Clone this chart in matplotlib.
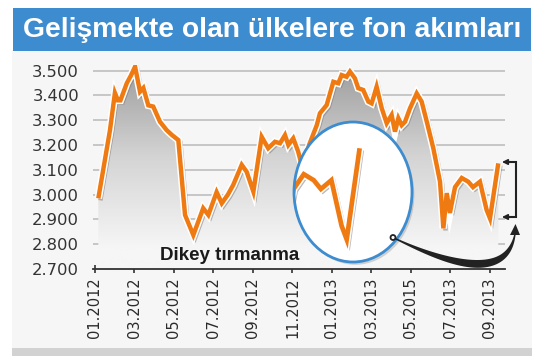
import numpy as np
import matplotlib
matplotlib.use("Agg")
import matplotlib.pyplot as plt
import matplotlib.patheffects as pe
from matplotlib.patches import Ellipse, Rectangle, Polygon
from matplotlib.colors import LinearSegmentedColormap

# data (x in months since 01.2012)
months = [0.17, 0.46, 0.76, 1.01, 1.16, 1.29, 1.61, 1.82, 2.03, 2.28, 2.45, 2.70,
          2.95, 3.29, 3.63, 3.90, 4.22, 4.56, 4.98, 5.48, 5.74, 6.16, 6.42, 6.73,
          7.00, 7.43, 7.68, 8.02, 8.44, 8.77, 9.11, 9.37, 9.62, 9.79, 10.04, 10.29,
          10.53, 10.84, 11.23, 11.39, 11.73, 12.07, 12.32, 12.49, 12.74, 12.91, 13.16,
          13.33, 13.58, 13.84, 14.01, 14.26, 14.52, 14.77, 15.02, 15.19, 15.36, 15.53,
          15.70, 15.95, 16.29, 16.54, 16.80, 17.13, 17.47, 17.64, 17.81, 17.97, 18.23,
          18.57, 18.90, 19.14, 19.49, 19.83, 20.00, 20.42]
values = [2.985, 3.12, 3.26, 3.41, 3.38, 3.38, 3.449, 3.48, 3.516, 3.415, 3.43, 3.36,
          3.355, 3.294, 3.26, 3.24, 3.22, 2.918, 2.837, 2.945, 2.918, 3.01, 2.965, 3.0,
          3.039, 3.12, 3.092, 3.012, 3.233, 3.187, 3.213, 3.207, 3.24, 3.2, 3.227, 3.173,
          3.10, 3.2, 3.28, 3.328, 3.361, 3.455, 3.449, 3.482, 3.475, 3.496, 3.469,
          3.429, 3.422, 3.375, 3.368, 3.435, 3.348, 3.288, 3.321, 3.254, 3.308, 3.28,
          3.294, 3.348, 3.408, 3.375, 3.294, 3.187, 3.052, 2.864, 3.006, 2.926, 3.03,
          3.067, 3.052, 3.03, 3.052, 2.938, 2.904, 3.126]

tick_pos = [0, 2, 4, 6, 8, 10, 12, 14, 16, 18, 20]
tick_labels = ["01.2012", "03.2012", "05.2012", "07.2012", "09.2012", "11.2012",
               "01.2013", "03.2013", "05.2015", "07.2013", "09.2013"]
yticks = [2.7, 2.8, 2.9, 3.0, 3.1, 3.2, 3.3, 3.4, 3.5]
ylabels = ["2.700", "2.800", "2.900", "3.000", "3.100", "3.200", "3.300", "3.400", "3.500"]

title = "Gelişmekte olan ülkelere fon akımları"
note = "Dikey tırmanma"

W, H = 549, 356
orange = "#f07a12"
blue = "#3d8ccf"
dark = "#222222"

fig = plt.figure(figsize=(W / 100, H / 100), dpi=100, facecolor="white")

def fx(px):
    return px / W

def fy(py):
    return 1 - py / H

# background panel
bg = fig.add_axes([0, 0, 1, 1], zorder=0)
bg.set_xlim(0, W)
bg.set_ylim(H, 0)
bg.axis("off")
bg.add_patch(Rectangle((12, 50), 520, 298, facecolor="#f6f6f6", edgecolor="none"))
bg.add_patch(Rectangle((12, 348), 520, 8, facecolor="#d2d2d2", edgecolor="none"))

# main chart
ax = fig.add_axes([fx(93), fy(269), fx(505) - fx(93), fy(65) - fy(269)], zorder=1)
ax.set_facecolor("none")
x0, x1 = -0.1, 20.76
y0, y1 = 2.7, 3.5226
ax.set_xlim(x0, x1)
ax.set_ylim(y0, y1)

for v in yticks[1:]:
    ax.axhline(v, color="#c6c6c6", lw=1.4, zorder=1)

# gradient fill under the line
poly = ax.fill_between(months, values, y0, color="none", lw=0)
cmap = LinearSegmentedColormap.from_list("g", ["#f6f6f6", "#d4d4d4", "#9c9c9c"])
grad = np.linspace(0, 1, 256).reshape(-1, 1)
grad = np.clip((grad - 0.1) / 0.9, 0, 1)
img = ax.imshow(grad, extent=[x0, x1, y0, y1], origin="lower", aspect="auto",
                cmap=cmap, zorder=2)
img.set_clip_path(poly.get_paths()[0], transform=ax.transData)

line_fx = [pe.SimpleLineShadow(offset=(1.5, -1.5), shadow_color="#777777", alpha=0.5),
           pe.Stroke(linewidth=5.4, foreground="white"), pe.Normal()]
ax.plot(months, values, color=orange, lw=3.2, solid_joinstyle="miter",
        solid_capstyle="butt", zorder=4, path_effects=line_fx)

for s in ["left", "right", "top"]:
    ax.spines[s].set_visible(False)
ax.spines["bottom"].set_color("#333333")
ax.spines["bottom"].set_linewidth(1.3)
ax.set_xticks(tick_pos)
ax.set_xticklabels(tick_labels, rotation=90, fontsize=10.5, color="#2a2a2a",
                   family="DejaVu Sans")
ax.tick_params(axis="x", direction="inout", length=6, width=1.2, color="#333333", pad=3)
ax.set_yticks(yticks)
ax.set_yticklabels(ylabels, fontsize=11.8, color="#333333", family="DejaVu Sans")
ax.tick_params(axis="y", length=0, pad=10)

# magnifier circle with the last weeks enlarged
ex, ey, ew, eh = 353, 192, 118, 140
ax_in = fig.add_axes([fx(ex - ew / 2), fy(ey + eh / 2), ew / W, eh / H], zorder=2)
ax_in.axis("off")
ax_in.add_patch(Ellipse((0.52, 0.48), 1.0, 1.0, transform=ax_in.transAxes,
                        facecolor="#888888", alpha=0.35, edgecolor="none", clip_on=False))
face = Ellipse((0.5, 0.5), 1.0, 1.0, transform=ax_in.transAxes, facecolor="white",
               edgecolor="none", clip_on=False)
ax_in.add_patch(face)
zoom_m = 20.0
ax_in.set_xlim(zoom_m - (346.7 - (ex - ew / 2)) / 30, zoom_m + (ex + ew / 2 - 346.7) / 30)
ax_in.set_ylim(3.05 - (ey + eh / 2 - 181) / 400, 3.05 + (181 - (ey - eh / 2)) / 400)
zl, = ax_in.plot(months[-9:], values[-9:], color=orange, lw=3.4, zorder=3,
                 solid_joinstyle="miter",
                 path_effects=[pe.SimpleLineShadow(offset=(1.5, -1.5), shadow_color="#777777", alpha=0.5),
                               pe.Stroke(linewidth=5.6, foreground="white"), pe.Normal()])
zl.set_clip_path(face)
ax_in.add_patch(Ellipse((0.5, 0.5), 1.0, 1.0, transform=ax_in.transAxes, facecolor="none",
                        edgecolor=blue, lw=2.0, zorder=5, clip_on=False))

# overlay: title banner, label, bracket, arrow
ov = fig.add_axes([0, 0, 1, 1], zorder=3)
ov.set_xlim(0, W)
ov.set_ylim(H, 0)
ov.axis("off")
ov.set_facecolor("none")
ov.add_patch(Rectangle((12.7, 8.3), 518.3, 42.4, facecolor=blue, edgecolor="none"))
ov.text(272, 30, title, color="white", fontsize=20.3, fontweight="bold",
        family=["Liberation Sans", "DejaVu Sans"], ha="center", va="center")
ov.text(160, 260, note, color="#1a1a1a", fontsize=13.5, fontweight="bold",
        family=["Liberation Sans", "DejaVu Sans"], ha="left", va="baseline")

# bracket
ov.plot([507, 516, 516, 507], [162, 162, 217, 217], color=dark, lw=1.5,
        solid_joinstyle="miter")
for yy in (162, 217):
    ov.annotate("", xy=(502, yy), xytext=(508, yy),
                arrowprops=dict(arrowstyle="-|>", color=dark, lw=1.2,
                                mutation_scale=8, shrinkA=0, shrinkB=0))

# tapered curved arrow
p0, p1, p2 = np.array([393, 237.5]), np.array([505, 292]), np.array([515, 234])
t = np.linspace(0, 1, 80)
c = ((1 - t) ** 2)[:, None] * p0 + (2 * (1 - t) * t)[:, None] * p1 + (t ** 2)[:, None] * p2
d = np.gradient(c, axis=0)
nrm = np.stack([-d[:, 1], d[:, 0]], axis=1)
nrm /= np.linalg.norm(nrm, axis=1)[:, None]
wid = 0.7 + 3.2 * np.sin(np.pi * t) ** 1.2
pts = np.vstack([c + nrm * wid[:, None], (c - nrm * wid[:, None])[::-1]])
ov.add_patch(Polygon(pts, closed=True, facecolor=dark, edgecolor="none"))
ov.add_patch(Polygon([[510, 235], [520, 235], [515.5, 224]], closed=True,
                     facecolor=dark, edgecolor="none"))
ov.add_patch(Ellipse((393, 237.5), 5, 5, facecolor="white", edgecolor=dark, lw=1.3))

fig.savefig("out.png", dpi=100, facecolor=fig.get_facecolor())
